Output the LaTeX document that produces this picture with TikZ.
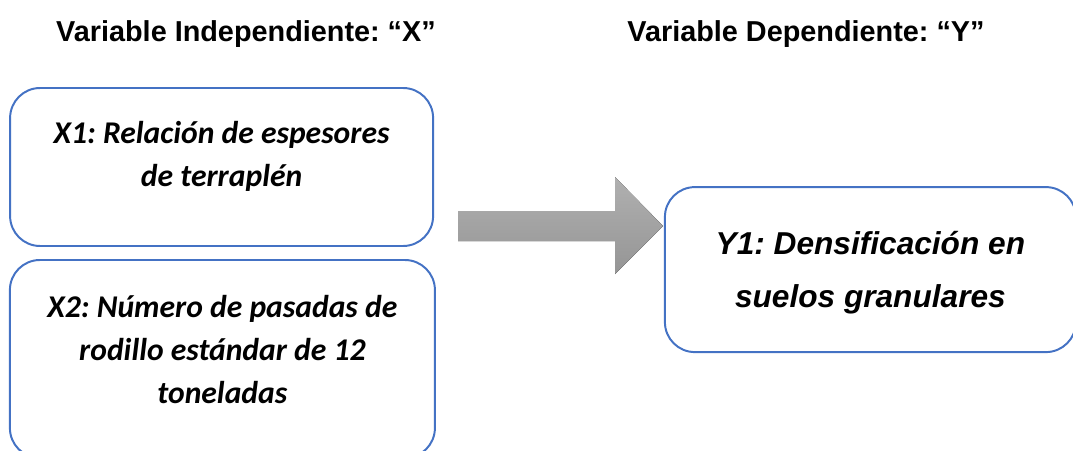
\documentclass[tikz,border=0pt]{standalone}
\usepackage{fontspec}
\setmainfont{Liberation Sans}
\newfontfamily\carlito{Carlito}
\usepackage{xcolor}
\usetikzlibrary{positioning,calc}
\frenchspacing
\definecolor{ink}{HTML}{000000}
\definecolor{blue}{HTML}{4472C4}
\definecolor{arrowtop}{HTML}{B0B0B0}
\definecolor{arrowbot}{HTML}{959595}
\tikzset{
  heading/.style={font=\bfseries\fontsize{20.5}{24}\selectfont, text=ink, align=center, anchor=base},
  varbox/.style={draw=blue, rounded corners=30*0.025cm, line width=1.4pt, fill=white, align=center, inner sep=0pt},
  xtext/.style={font=\carlito\bfseries\itshape\fontsize{22.5}{30.5}\selectfont, text=ink, align=center},
  ytext/.style={font=\bfseries\itshape\fontsize{22.5}{37.5}\selectfont, text=ink, align=center}
}

\begin{document}
\begin{tikzpicture}
\useasboundingbox (0,0) rectangle (26.825,11.25);
\begin{scope}
\clip (0,0) rectangle (26.825,11.25);
\node[heading] (hx) at (6.15,10.2) {Variable Independiente: “X”};
\node[heading] (hy) at (20.15,10.2) {Variable Dependiente: “Y”};
\node[varbox, minimum width=10.575cm, minimum height=3.95cm] (x1) at (5.54,7.075) {};
\node[xtext] at ($(x1.center)+(0,0.27)$) {X1: Relación de espesores\\de terraplén};
\node[varbox, minimum width=10.625cm, minimum height=4.95cm] (x2) at (5.56,2.275) {};
\node[xtext] at ($(x2.north)+(0,-2.27)$) {X2: Número de pasadas de\\rodillo estándar de 12\\toneladas};
\node[varbox, minimum width=10.275cm, minimum height=4.125cm] (y1) at (21.76,4.51) {};
\node[ytext] at ($(y1.center)+(0,-0.07)$) {Y1: Densificación en\\suelos granulares};
% block arrow between the two columns
\fill[top color=arrowtop, bottom color=arrowbot]
  (11.45,5.975) -- (15.375,5.975) -- (15.375,6.825) -- (16.575,5.6)
  -- (15.375,4.4) -- (15.375,5.225) -- (11.45,5.225) -- cycle;
\end{scope}
\end{tikzpicture}
\end{document}
